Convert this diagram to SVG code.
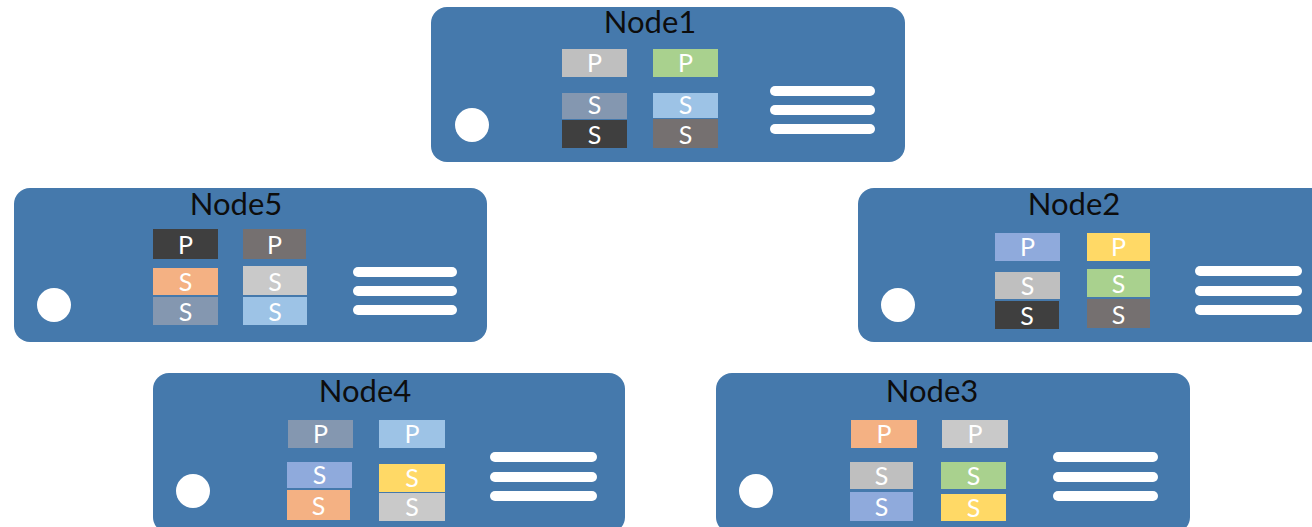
<svg xmlns="http://www.w3.org/2000/svg" width="1312" height="527" viewBox="0 0 1312 527">
  <style>
    .box { fill: #4579AC; }
    .title { font-family: Lato, "Liberation Sans", sans-serif; font-size: 31px; fill: #0d0d0d; text-anchor: middle; }
    .lbl { font-family: Lato, "Liberation Sans", sans-serif; font-size: 25px; fill: #ffffff; text-anchor: middle; }
    .dot { fill: #ffffff; }
    .bar { stroke: #ffffff; stroke-width: 10; stroke-linecap: round; }
    .c-grey { fill: #BFBFBF; }
    .c-lgrey { fill: #C9C9C9; }
    .c-green { fill: #A9D18E; }
    .c-slate { fill: #8497B0; }
    .c-sky { fill: #9DC3E6; }
    .c-dark { fill: #3F3F3F; }
    .c-taupe { fill: #757070; }
    .c-orange { fill: #F4B183; }
    .c-blue { fill: #8FAADC; }
    .c-yellow { fill: #FFD966; }
  </style>

  <rect width="1312" height="527" fill="#ffffff"/>

  <!-- Node1 -->
  <g id="node1">
    <rect class="box" x="431" y="7" width="474" height="155" rx="16"/>
    <text class="title" x="650" y="33">Node1</text>
    <rect class="c-grey" x="562" y="49" width="65" height="28"/>
    <text class="lbl" x="594.5" y="72">P</text>
    <rect class="c-green" x="653" y="49" width="65" height="28"/>
    <text class="lbl" x="685.5" y="72">P</text>
    <rect class="c-slate" x="562" y="93" width="65" height="26"/>
    <text class="lbl" x="594.5" y="114">S</text>
    <rect class="c-dark" x="562" y="120" width="65" height="28"/>
    <text class="lbl" x="594.5" y="144">S</text>
    <rect class="c-sky" x="653" y="93" width="65" height="25"/>
    <text class="lbl" x="685.5" y="114">S</text>
    <rect class="c-taupe" x="653" y="119" width="65" height="29"/>
    <text class="lbl" x="685.5" y="144">S</text>
    <circle class="dot" cx="472" cy="125" r="17"/>
    <line class="bar" x1="775" y1="91" x2="870" y2="91"/>
    <line class="bar" x1="775" y1="110" x2="870" y2="110"/>
    <line class="bar" x1="775" y1="129" x2="870" y2="129"/>
  </g>

  <!-- Node5 -->
  <g id="node5">
    <rect class="box" x="14" y="188" width="473" height="154" rx="16"/>
    <text class="title" x="236" y="215">Node5</text>
    <rect class="c-dark" x="153" y="229" width="65" height="30"/>
    <text class="lbl" x="185.5" y="254">P</text>
    <rect class="c-taupe" x="243" y="229" width="63" height="30"/>
    <text class="lbl" x="274.5" y="254">P</text>
    <rect class="c-orange" x="153" y="268" width="65" height="27"/>
    <text class="lbl" x="185.5" y="291">S</text>
    <rect class="c-slate" x="153" y="297" width="65" height="28"/>
    <text class="lbl" x="185.5" y="321">S</text>
    <rect class="c-lgrey" x="243" y="266" width="64" height="29"/>
    <text class="lbl" x="275" y="291">S</text>
    <rect class="c-sky" x="243" y="297" width="64" height="28"/>
    <text class="lbl" x="275" y="321">S</text>
    <circle class="dot" cx="54" cy="305" r="17"/>
    <line class="bar" x1="358" y1="272" x2="452" y2="272"/>
    <line class="bar" x1="358" y1="291" x2="452" y2="291"/>
    <line class="bar" x1="358" y1="310" x2="452" y2="310"/>
  </g>

  <!-- Node2 -->
  <g id="node2">
    <rect class="box" x="858" y="188" width="474" height="154" rx="16"/>
    <text class="title" x="1074" y="215">Node2</text>
    <rect class="c-blue" x="995" y="233" width="65" height="28"/>
    <text class="lbl" x="1027.5" y="256">P</text>
    <rect class="c-yellow" x="1087" y="233" width="63" height="28"/>
    <text class="lbl" x="1118.5" y="256">P</text>
    <rect class="c-grey" x="995" y="272" width="65" height="27"/>
    <text class="lbl" x="1027.5" y="295">S</text>
    <rect class="c-dark" x="995" y="301" width="64" height="28"/>
    <text class="lbl" x="1027" y="325">S</text>
    <rect class="c-green" x="1087" y="269" width="63" height="28"/>
    <text class="lbl" x="1118.5" y="293">S</text>
    <rect class="c-taupe" x="1087" y="299" width="63" height="29"/>
    <text class="lbl" x="1118.5" y="324">S</text>
    <circle class="dot" cx="898" cy="305" r="17"/>
    <line class="bar" x1="1200" y1="271" x2="1297" y2="271"/>
    <line class="bar" x1="1200" y1="291" x2="1297" y2="291"/>
    <line class="bar" x1="1200" y1="310" x2="1297" y2="310"/>
  </g>

  <!-- Node4 -->
  <g id="node4">
    <rect class="box" x="153" y="373" width="472" height="160" rx="16"/>
    <text class="title" x="365" y="402">Node4</text>
    <rect class="c-slate" x="288" y="420" width="65" height="28"/>
    <text class="lbl" x="320.5" y="443">P</text>
    <rect class="c-sky" x="379" y="420" width="66" height="28"/>
    <text class="lbl" x="412" y="443">P</text>
    <rect class="c-blue" x="287" y="462" width="65" height="26"/>
    <text class="lbl" x="319.5" y="484">S</text>
    <rect class="c-orange" x="287" y="490" width="63" height="30"/>
    <text class="lbl" x="318.5" y="515">S</text>
    <rect class="c-yellow" x="379" y="464" width="66" height="28"/>
    <text class="lbl" x="412" y="487">S</text>
    <rect class="c-lgrey" x="379" y="493" width="66" height="28"/>
    <text class="lbl" x="412" y="516">S</text>
    <circle class="dot" cx="193" cy="491" r="17"/>
    <line class="bar" x1="495" y1="457" x2="592" y2="457"/>
    <line class="bar" x1="495" y1="477" x2="592" y2="477"/>
    <line class="bar" x1="495" y1="496" x2="592" y2="496"/>
  </g>

  <!-- Node3 -->
  <g id="node3">
    <rect class="box" x="716" y="373" width="474" height="160" rx="16"/>
    <text class="title" x="932" y="402">Node3</text>
    <rect class="c-orange" x="851" y="420" width="66" height="28"/>
    <text class="lbl" x="884" y="443">P</text>
    <rect class="c-lgrey" x="942" y="420" width="66" height="28"/>
    <text class="lbl" x="975" y="443">P</text>
    <rect class="c-grey" x="850" y="462" width="63" height="27"/>
    <text class="lbl" x="881.5" y="485">S</text>
    <rect class="c-blue" x="850" y="492" width="63" height="29"/>
    <text class="lbl" x="881.5" y="516">S</text>
    <rect class="c-green" x="941" y="462" width="65" height="27"/>
    <text class="lbl" x="973.5" y="485">S</text>
    <rect class="c-yellow" x="941" y="494" width="65" height="27"/>
    <text class="lbl" x="973.5" y="517">S</text>
    <circle class="dot" cx="756" cy="491" r="17"/>
    <line class="bar" x1="1058" y1="457" x2="1153" y2="457"/>
    <line class="bar" x1="1058" y1="477" x2="1153" y2="477"/>
    <line class="bar" x1="1058" y1="496" x2="1153" y2="496"/>
  </g>

  <!-- nodes stand apart; no links drawn between them -->
  <g id="connectors"/>
</svg>
